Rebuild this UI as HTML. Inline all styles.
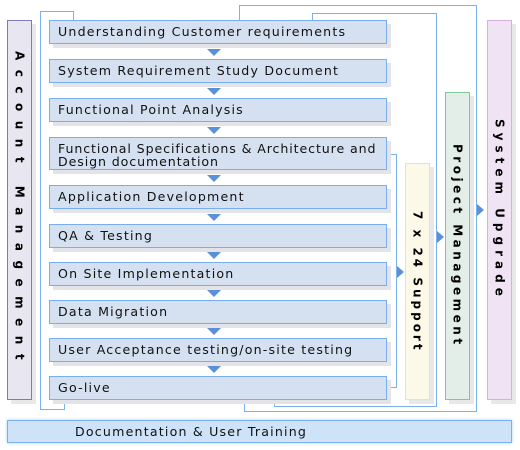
<!DOCTYPE html>
<html><head><meta charset="utf-8"><style>
body{margin:0;width:520px;height:450px;background:#fff;position:relative;overflow:hidden;font-family:"DejaVu Sans","Liberation Sans",sans-serif;}
.b{position:absolute;left:49px;width:338px;background:#d5e1f1;border:1px solid #78aef0;box-shadow:4px 4px 0 #e4e4e8;font-size:12.6px;letter-spacing:1.2px;color:#111;padding-left:8px;box-sizing:border-box;line-height:22px;white-space:nowrap;}
.v{position:absolute;box-sizing:border-box;writing-mode:vertical-rl;font-size:12px;font-weight:bold;display:flex;align-items:center;justify-content:center;box-shadow:4px 4px 0 #e8e8e8;}
.l{position:absolute;background:#78b0f0;}
.ar{position:absolute;width:0;height:0;border-left:7px solid transparent;border-right:7px solid transparent;border-top:7px solid #5a90d8;left:207px;}
.ra{position:absolute;width:0;height:0;border-top:6px solid transparent;border-bottom:6px solid transparent;border-left:7px solid #5a90d8;}
</style></head><body>
<div class="l" style="left:40px;top:11px;width:1px;height:399px"></div>
<div class="l" style="left:40px;top:11px;width:34px;height:1px"></div>
<div class="l" style="left:73px;top:11px;width:1px;height:9px"></div>
<div class="l" style="left:40px;top:409px;width:25px;height:1px"></div>
<div class="l" style="left:64px;top:400px;width:1px;height:10px"></div>

<div class="l" style="left:239px;top:5px;width:238px;height:1px"></div>
<div class="l" style="left:239px;top:5px;width:1px;height:15px"></div>
<div class="l" style="left:476px;top:5px;width:1px;height:407px"></div>
<div class="l" style="left:244px;top:411px;width:233px;height:1px"></div>
<div class="l" style="left:244px;top:400px;width:1px;height:12px"></div>

<div class="l" style="left:312px;top:13px;width:125px;height:1px"></div>
<div class="l" style="left:312px;top:13px;width:1px;height:7px"></div>
<div class="l" style="left:436px;top:13px;width:1px;height:394px"></div>
<div class="l" style="left:274px;top:406px;width:163px;height:1px"></div>
<div class="l" style="left:274px;top:400px;width:1px;height:7px"></div>

<div class="l" style="left:389px;top:154px;width:8px;height:1px"></div>
<div class="l" style="left:396px;top:154px;width:1px;height:234px"></div>
<div class="l" style="left:389px;top:387px;width:8px;height:1px"></div>

<div class="v" style="left:7px;top:20px;width:25px;height:380px;background:#e8e6f0;border:1px solid #8078b8;letter-spacing:9.5px;">Account Management</div>
<div class="v" style="left:405px;top:163px;width:25px;height:237px;background:#fdf9e8;border:1px solid #f3e4a0;letter-spacing:3px;">7 x 24 Support</div>
<div class="v" style="left:445px;top:92px;width:25px;height:308px;background:#e3eee8;border:1px solid #80c898;letter-spacing:3.5px;">Project Management</div>
<div class="v" style="left:487px;top:20px;width:25px;height:380px;background:#f0e4f4;border:1px solid #d8b0e0;letter-spacing:5px;">System Upgrade</div>

<div class="b" style="top:20px;height:24px">Understanding Customer requirements</div>
<div class="b" style="top:59px;height:24px">System Requirement Study Document</div>
<div class="b" style="top:98px;height:24px">Functional Point Analysis</div>
<div class="b" style="top:137px;height:33px;line-height:13px;padding-top:4px;letter-spacing:0.9px">Functional Specifications &amp; Architecture and<br>Design documentation</div>
<div class="b" style="top:185px;height:24px">Application Development</div>
<div class="b" style="top:224px;height:24px">QA &amp; Testing</div>
<div class="b" style="top:262px;height:24px">On Site Implementation</div>
<div class="b" style="top:300px;height:24px">Data Migration</div>
<div class="b" style="top:338px;height:24px">User Acceptance testing/on-site testing</div>
<div class="b" style="top:376px;height:24px">Go-live</div>

<div class="ar" style="top:49px"></div>
<div class="ar" style="top:88px"></div>
<div class="ar" style="top:127px"></div>
<div class="ar" style="top:175px"></div>
<div class="ar" style="top:214px"></div>
<div class="ar" style="top:252px"></div>
<div class="ar" style="top:290px"></div>
<div class="ar" style="top:328px"></div>
<div class="ar" style="top:366px"></div>

<div class="ra" style="left:397px;top:266px"></div>
<div class="ra" style="left:437px;top:231px"></div>
<div class="ra" style="left:477px;top:204px"></div>

<div style="position:absolute;left:7px;top:420px;width:505px;height:23px;box-sizing:border-box;background:#cfe3f8;border:1px solid #78b0f0;box-shadow:0 0 3px #a8d0f8;font-size:12.6px;letter-spacing:1.2px;line-height:21px;padding-left:67px;color:#111">Documentation &amp; User Training</div>
</body></html>
